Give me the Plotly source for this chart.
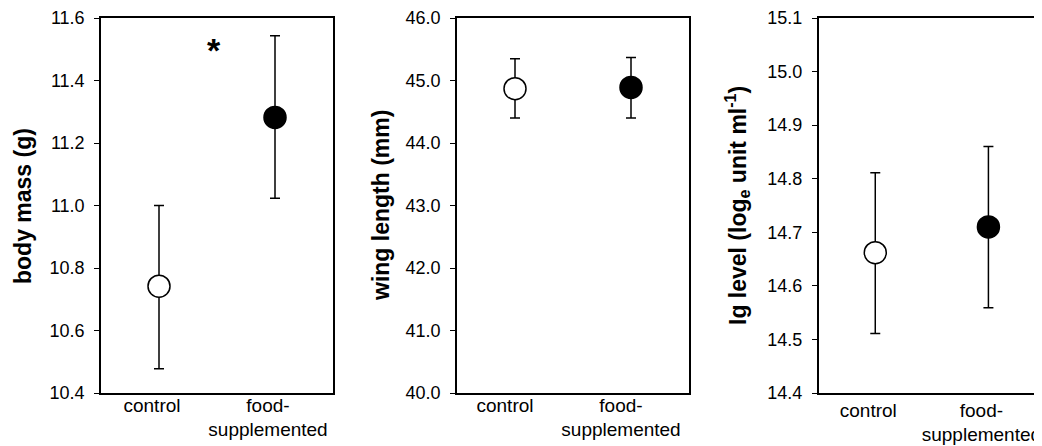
import plotly.graph_objects as go

categories = ["control", "food-<br>supplemented"]

# panel 1: body mass (g)
mass_mean = [10.742, 11.282]
mass_upper = [11.000, 11.543]
mass_lower = [10.478, 11.023]

# panel 2: wing length (mm)
wing_mean = [44.87, 44.89]
wing_upper = [45.35, 45.37]
wing_lower = [44.40, 44.40]

# panel 3: Ig level
ig_mean = [14.662, 14.710]
ig_upper = [14.811, 14.860]
ig_lower = [14.511, 14.559]

y_titles = ["body mass (g)", "wing length (mm)", "Ig level (log<sub>e</sub> unit ml<sup>-1</sup>)"]
y_ranges = [[10.4, 11.6], [40.0, 46.0], [14.4, 15.1]]
y_dtick = [0.2, 1.0, 0.1]

W, H = 1042, 446
OFF = 8  # page body margin
FONT = "Arial, Liberation Sans, sans-serif"


def fx(px):
    return (px - OFF) / W


def fy(py):
    return 1 - (py - OFF) / H


x_domains = [(fx(101), fx(333)), (fx(457), fx(689)), (fx(818.7), fx(1045))]
y_domain = (fy(393), fy(18))
title_x = [23, 381, 737]
label_shift = [-7, -10, -7]
label_standoff = [-6, -6, -1]

fig = go.Figure()
panels = [(mass_mean, mass_upper, mass_lower),
          (wing_mean, wing_upper, wing_lower),
          (ig_mean, ig_upper, ig_lower)]
fills = ["white", "black"]

for i, (m, up, lo) in enumerate(panels):
    xa = "x" if i == 0 else f"x{i+1}"
    ya = "y" if i == 0 else f"y{i+1}"
    for j in range(2):
        fig.add_trace(go.Scatter(
            x=[j], y=[m[j]], mode="markers", xaxis=xa, yaxis=ya,
            marker=dict(size=22, color=fills[j], line=dict(color="black", width=1.5)),
            error_y=dict(type="data", symmetric=False,
                         array=[up[j] - m[j]], arrayminus=[m[j] - lo[j]],
                         color="black", thickness=1.5, width=5),
            showlegend=False, hoverinfo="skip"))

layout = dict(width=W, height=H, margin=dict(l=0, r=0, t=0, b=0, autoexpand=False),
              plot_bgcolor="white", paper_bgcolor="white",
              font=dict(family=FONT, color="black", size=18))

for i in range(3):
    sfx = "" if i == 0 else str(i + 1)
    layout[f"xaxis{sfx}"] = dict(
        domain=[x_domains[i][0], min(1.0, x_domains[i][1])], range=[-0.5, 1.5], automargin=False,
        tickmode="array", tickvals=[0, 1], ticktext=categories,
        ticklabeloverflow="allow", ticklabelshift=label_shift[i],
        ticklabelstandoff=label_standoff[i],
        showline=True, linecolor="black", linewidth=1.5, mirror=True,
        ticks="", showgrid=False, zeroline=False, fixedrange=True,
        tickfont=dict(size=19, family=FONT, color="black"),
        anchor="y" if i == 0 else f"y{i+1}")
    layout[f"yaxis{sfx}"] = dict(
        domain=list(y_domain), range=y_ranges[i], dtick=y_dtick[i], tick0=0,
        tickformat=".1f", automargin=False, ticklabelstandoff=6,
        ticklabeloverflow="allow",
        showline=True, linecolor="black", linewidth=1.5, mirror=(i < 2),
        ticks="outside", ticklen=5, tickwidth=1, tickcolor="black",
        showgrid=False, zeroline=False, fixedrange=True,
        tickfont=dict(size=18, family=FONT, color="black"),
        anchor="x" if i == 0 else f"x{i+1}")

fig.update_layout(**layout)

for i in range(3):
    fig.add_annotation(text=f"<b>{y_titles[i]}</b>", xref="paper", yref="paper",
                       x=fx(title_x[i]), y=fy(206), textangle=-90,
                       showarrow=False, xanchor="center", yanchor="middle",
                       font=dict(size=23, family=FONT, color="black"))

fig.add_annotation(text="<b>*</b>", xref="x", yref="y", x=0.472, y=11.498,
                   showarrow=False, font=dict(size=34, family=FONT, color="black"))

fig.write_html("out.html")
